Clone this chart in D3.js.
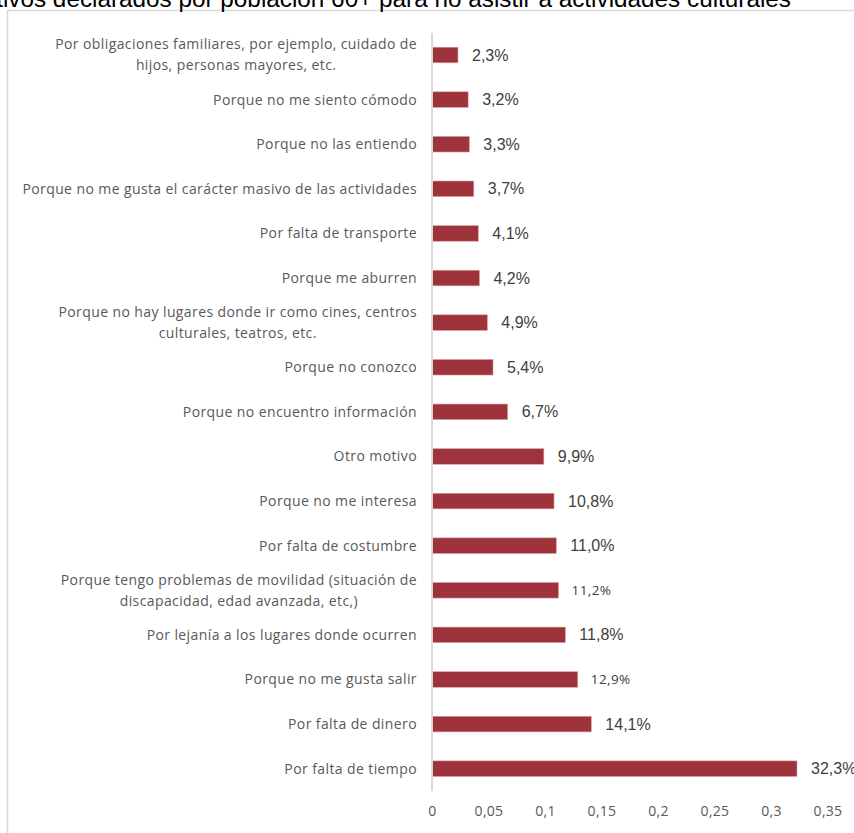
<!DOCTYPE html>
<html><head><meta charset="utf-8">
<script src="https://cdn.jsdelivr.net/npm/d3@7"></script>
<style>body{margin:0;background:#fff;overflow:hidden}</style>
</head><body>
<svg id="c" width="854" height="833"></svg>
<script>
const title = "Motivos declarados por población 60+ para no asistir a actividades culturales";
const categories = [
  "Por obligaciones familiares, por ejemplo, cuidado de\nhijos, personas mayores, etc.",
  "Porque no me siento cómodo",
  "Porque no las entiendo",
  "Porque no me gusta el carácter masivo de las actividades",
  "Por falta de transporte",
  "Porque me aburren",
  "Porque no hay lugares donde ir como cines, centros\nculturales, teatros, etc.",
  "Porque no conozco",
  "Porque no encuentro información",
  "Otro motivo",
  "Porque no me interesa",
  "Por falta de costumbre",
  "Porque tengo problemas de movilidad (situación de\ndiscapacidad, edad avanzada, etc,)",
  "Por lejanía a los lugares donde ocurren",
  "Porque no me gusta salir",
  "Por falta de dinero",
  "Por falta de tiempo"
];
const values = [0.023,0.032,0.033,0.037,0.041,0.042,0.049,0.054,0.067,0.099,0.108,0.110,0.112,0.118,0.129,0.141,0.323];
const xTicks = [0,0.05,0.1,0.15,0.2,0.25,0.3,0.35];
const smallLabelCats = [categories[12], categories[14]];

const locale = d3.formatLocale({decimal:",", thousands:".", grouping:[3], currency:["",""]});
const pct = locale.format(".1%");
const tickFmt = locale.format("~g");

const svg = d3.select("#c");
// outer frame
svg.append("rect").attr("x",7.5).attr("y",10.5).attr("width",900).attr("height",900)
  .attr("fill","none").attr("stroke","#d9d9d9").attr("stroke-width",1.5);
// title (cropped at top)
svg.append("text").attr("x",791).attr("y",6.5).attr("text-anchor","end")
  .attr("font-family","Liberation Sans, Arial, sans-serif").attr("font-size",24.3)
  .attr("fill","#000").text(title);

const x = d3.scaleLinear().domain([0,0.35]).range([432,827.5]);
const y = d3.scaleBand().domain(categories).range([32.7,791]).paddingInner(0.65).paddingOuter(0.325);

// bars
svg.append("g").selectAll("rect").data(categories).join("rect")
  .attr("x", x(0)).attr("y", d=>y(d))
  .attr("width", (d,i)=>x(values[i])-x(0)).attr("height", y.bandwidth())
  .attr("fill","#9f333b").attr("stroke","#d9a3a7").attr("stroke-width",0.6);

// axis line
svg.append("line").attr("x1",x(0)).attr("x2",x(0)).attr("y1",33).attr("y2",791)
  .attr("stroke","#d9d9d9").attr("stroke-width",2);

// x tick labels
const xAxis = d3.axisBottom(x).tickValues(xTicks).tickFormat(tickFmt).tickSize(0).tickPadding(0);
const ga = svg.append("g").attr("transform","translate(0,806)").call(xAxis);
ga.select(".domain").remove();
ga.selectAll("text").attr("font-family","Open Sans, sans-serif").attr("font-size",14)
  .attr("letter-spacing",0.3).attr("fill","#595959");

// category labels
const labelRight = 417;
const lg = svg.append("g").attr("font-family","Open Sans, sans-serif").attr("font-size",14)
  .attr("letter-spacing",0.4).attr("fill","#595959");
categories.forEach(c=>{
  const lines = c.split("\n");
  const cy = y(c) + y.bandwidth()/2;
  if (lines.length === 1) {
    lg.append("text").attr("x",labelRight).attr("y",cy).attr("dy","0.35em")
      .attr("text-anchor","end").text(lines[0]);
  } else {
    const t1 = lg.append("text").attr("x",labelRight).attr("y",cy-10.5).attr("dy","0.35em")
      .attr("text-anchor","end").text(lines[0]);
    const w = t1.node().getComputedTextLength();
    const cx = labelRight - w/2;
    t1.attr("x",cx).attr("text-anchor","middle");
    lg.append("text").attr("x",cx).attr("y",cy+10.5).attr("dy","0.35em")
      .attr("text-anchor","middle").text(lines[1]);
  }
});

// value labels
svg.append("g").selectAll("text").data(categories).join("text")
  .attr("x",(d,i)=>x(values[i])+ (smallLabelCats.includes(d)?13:14))
  .attr("y",d=>y(d)+y.bandwidth()/2).attr("dy","0.35em")
  .attr("font-family",d=>smallLabelCats.includes(d)?"Open Sans, sans-serif":"Liberation Sans, Arial, sans-serif")
  .attr("font-size",d=>smallLabelCats.includes(d)?13.5:16)
  .attr("letter-spacing",d=>smallLabelCats.includes(d)?0.4:0)
  .attr("fill","#404040")
  .text((d,i)=>pct(values[i]));
</script>
</body></html>
